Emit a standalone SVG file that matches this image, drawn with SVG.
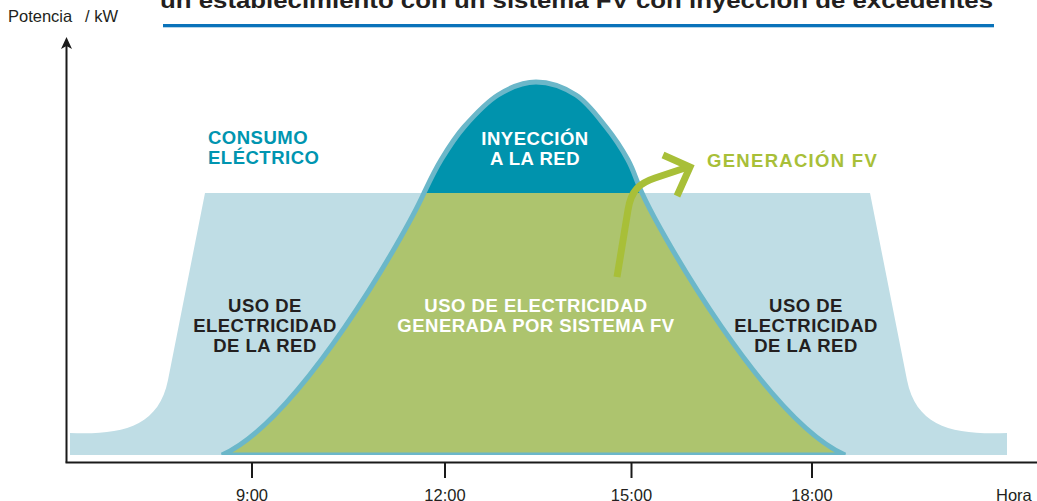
<svg xmlns="http://www.w3.org/2000/svg" width="1037" height="501" viewBox="0 0 1037 501">
<style>
.lbl{font-family:"Liberation Sans",Arial,sans-serif;font-weight:bold;font-size:18.5px;letter-spacing:0.5px;text-anchor:middle}
.dark{fill:#231f20}
.white{fill:#ffffff}
.teal{fill:#0095b0}
.green{fill:#a8bf38}
.ax{font-family:"Liberation Sans",Arial,sans-serif;font-size:16.5px;fill:#231f20}
.axis{stroke:#1a1a1a;stroke-width:2;fill:none}
</style>
<defs>
<clipPath id="below"><rect x="0" y="0" width="1037" height="455"/></clipPath>
<clipPath id="top"><rect x="0" y="0" width="1037" height="193"/></clipPath>
<path id="bell" d="M222,455 C300,420 405,235 424,193 C430.5,179.3 434.3,171 441,160 C447.7,149 454.5,137.8 464,127 C473.5,116.2 486,102.5 498,95 C510,87.5 523,82 536,82 C549,82 564.3,87.5 576,95 C587.7,102.5 597.3,116.2 606,127 C614.7,137.8 622,149 628,160 C634,171 635.8,179.3 642,193 C661,235 767,420 845,455 Z"/>
</defs>
<g id="title">
<text x="160" y="8" textLength="833" lengthAdjust="spacingAndGlyphs" style="font-family:'Liberation Sans',Arial,sans-serif;font-weight:bold;font-size:22px;fill:#231f20">un establecimiento con un sistema FV con inyección de excedentes</text>
<rect x="163" y="24" width="831" height="3.3" fill="#0a73ba"/>
</g>
<g id="consumo">
<path d="M70,433 C120,435 158.5,428 168,380 L205,193 L870,193 L907,380 C916.5,428 955,435 1007,433 L1007,455 L70,455 Z" fill="#bfdde5"/>
</g>
<g id="generacion" clip-path="url(#below)">
<use href="#bell" fill="#adc46e"/>
<use href="#bell" fill="#0093ad" clip-path="url(#top)"/>
<use href="#bell" fill="none" stroke="#6bb7c9" stroke-width="5"/>
</g>
<g id="axes">
<line class="axis" x1="66.5" y1="462.5" x2="66.5" y2="45"/>
<polygon points="66.5,37 61,49 66.5,46 72,49" fill="#1a1a1a"/>
<line class="axis" x1="65.5" y1="462.5" x2="1037" y2="462.5"/>
<line class="axis" x1="252" y1="462" x2="252" y2="478"/>
<line class="axis" x1="445" y1="462" x2="445" y2="478"/>
<line class="axis" x1="631.5" y1="462" x2="631.5" y2="478"/>
<line class="axis" x1="812" y1="462" x2="812" y2="478"/>
<text class="ax" x="8" y="22">Potencia</text>
<text class="ax" x="85" y="22">/ kW</text>
<text class="ax" x="252" y="501" text-anchor="middle">9:00</text>
<text class="ax" x="445" y="501" text-anchor="middle">12:00</text>
<text class="ax" x="631.5" y="501" text-anchor="middle">15:00</text>
<text class="ax" x="812" y="501" text-anchor="middle">18:00</text>
<text class="ax" x="996" y="501">Hora</text>
</g>
<g id="label-consumo">
<text class="lbl teal" x="208" y="144" style="text-anchor:start">CONSUMO</text>
<text class="lbl teal" x="208" y="164" style="text-anchor:start">ELÉCTRICO</text>
</g>
<g id="label-inyeccion">
<text class="lbl white" x="535" y="145">INYECCIÓN</text>
<text class="lbl white" x="535" y="165">A LA RED</text>
</g>
<g id="label-generacion">
<text class="lbl green" x="707" y="167" style="text-anchor:start;letter-spacing:1.3px">GENERACIÓN FV</text>
</g>
<g id="label-red-izq">
<text class="lbl dark" x="265" y="312">USO DE</text>
<text class="lbl dark" x="265" y="332">ELECTRICIDAD</text>
<text class="lbl dark" x="265" y="352">DE LA RED</text>
</g>
<g id="label-fv">
<text class="lbl white" x="536" y="312">USO DE ELECTRICIDAD</text>
<text class="lbl white" x="536" y="332">GENERADA POR SISTEMA FV</text>
</g>
<g id="label-red-der">
<text class="lbl dark" x="806" y="312">USO DE</text>
<text class="lbl dark" x="806" y="332">ELECTRICIDAD</text>
<text class="lbl dark" x="806" y="352">DE LA RED</text>
</g>
<g id="connectors" fill="none" stroke="#a8bf38" stroke-width="7">
<path d="M617,277 L628,210 C631,190 640,183 655,178 L688,167"/>
<path d="M663,155 L690,167 L677,196" stroke-linejoin="miter"/>
</g>
</svg>
